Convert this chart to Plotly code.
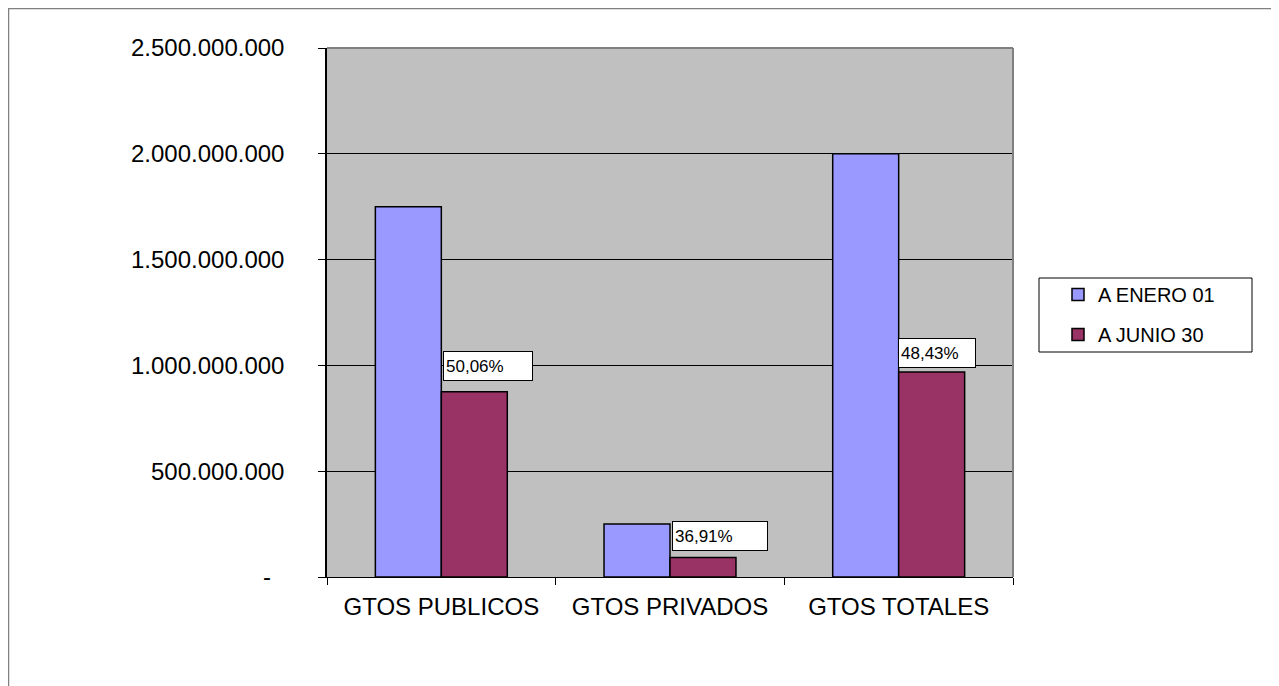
import plotly.graph_objects as go

# data
categories = ["GTOS PUBLICOS", "GTOS PRIVADOS", "GTOS TOTALES"]
enero_01 = [1750000000, 250000000, 2000000000]
junio_30 = [876050000, 92275000, 968600000]
pct_labels = ["50,06%", "36,91%", "48,43%"]
series_names = ["A ENERO 01", "A JUNIO 30"]
tick_vals = [0, 500000000, 1000000000, 1500000000, 2000000000, 2500000000]
tick_text = ["-\u00a0\u00a0", "500.000.000", "1.000.000.000", "1.500.000.000", "2.000.000.000", "2.500.000.000"]

FONT = "Liberation Sans, Arial, sans-serif"
OFF = 8  # page body margin
W, H = 1279 - OFF, 686 - OFF
L, R, T, B = 327 - OFF, 266, 48 - OFF, 109
PW, PH = W - L - R, H - T - B


def px_x(sx):
    # screen pixel -> paper fraction
    return (sx - OFF - L) / PW


def px_y(sy):
    return (H - B - (sy - OFF)) / PH


fig = go.Figure()
fig.add_trace(go.Bar(
    x=categories, y=enero_01, name=series_names[0], legendgroup="a",
    marker={"color": "#9999FF", "line": {"color": "#000000", "width": 1.5}},
))
fig.add_trace(go.Bar(
    x=categories, y=junio_30, name=series_names[1], legendgroup="b",
    marker={"color": "#993366", "line": {"color": "#000000", "width": 1.5}},
))

# percentage boxes sit on top of the second bar of each group
box_w = [84, 90, 72]
y_shift = [11, 6, 4]
x_shift = [2, 2, -1]
for i, (val, txt) in enumerate(zip(junio_30, pct_labels)):
    fig.add_annotation(
        x=i, y=val, xref="x", yref="y", text=txt, showarrow=False,
        xanchor="left", yanchor="bottom", xshift=x_shift[i], yshift=y_shift[i],
        width=box_w[i], height=24, align="left", borderpad=2,
        bgcolor="#FFFFFF", bordercolor="#000000", borderwidth=1,
        font={"size": 17, "color": "#000000", "family": FONT},
    )

# outer chart frame, legend frame and plot-area top/right edges
fig.add_shape(type="rect", xref="paper", yref="paper",
              x0=px_x(8.5), x1=px_x(1273), y0=px_y(720), y1=px_y(8.5),
              line={"color": "#808080", "width": 1.5}, layer="below")
fig.add_shape(type="rect", xref="paper", yref="paper",
              x0=px_x(1039), x1=px_x(1252), y0=px_y(352), y1=px_y(278),
              line={"color": "#000000", "width": 1})
fig.add_shape(type="line", xref="paper", yref="paper", x0=0, x1=1, y0=1, y1=1,
              line={"color": "#808080", "width": 2})
fig.add_shape(type="line", xref="paper", yref="paper", x0=1, x1=1, y0=0, y1=1,
              line={"color": "#808080", "width": 2})

fig.update_layout(
    width=W, height=H,
    margin={"l": L, "r": R, "t": T, "b": B},
    paper_bgcolor="#FFFFFF", plot_bgcolor="#C0C0C0",
    barmode="group", bargap=0.423, bargroupgap=0,
    font={"family": FONT, "color": "#000000"},
    legend={
        "x": px_x(1058), "y": px_y(275), "xanchor": "left", "yanchor": "top",
        "bgcolor": "rgba(0,0,0,0)", "borderwidth": 0,
        "font": {"size": 20, "family": FONT}, "tracegroupgap": 11,
        "itemclick": False,
    },
    xaxis={
        "type": "category", "showgrid": False, "ticks": "outside", "tickson": "boundaries",
        "ticklen": 7, "tickcolor": "#000000", "showline": True, "linecolor": "#000000",
        "linewidth": 1, "tickfont": {"size": 24}, "ticklabelstandoff": 8,
    },
    yaxis={
        "range": [0, 2500000000], "tickvals": tick_vals, "ticktext": tick_text,
        "showgrid": True, "gridcolor": "#000000", "gridwidth": 1, "zeroline": False,
        "ticks": "outside", "ticklen": 7, "tickcolor": "#000000",
        "showline": True, "linecolor": "#000000", "linewidth": 1.5,
        "tickfont": {"size": 24}, "ticklabelstandoff": 29,
    },
)

fig.write_html("out.html", config={"displayModeBar": False})
